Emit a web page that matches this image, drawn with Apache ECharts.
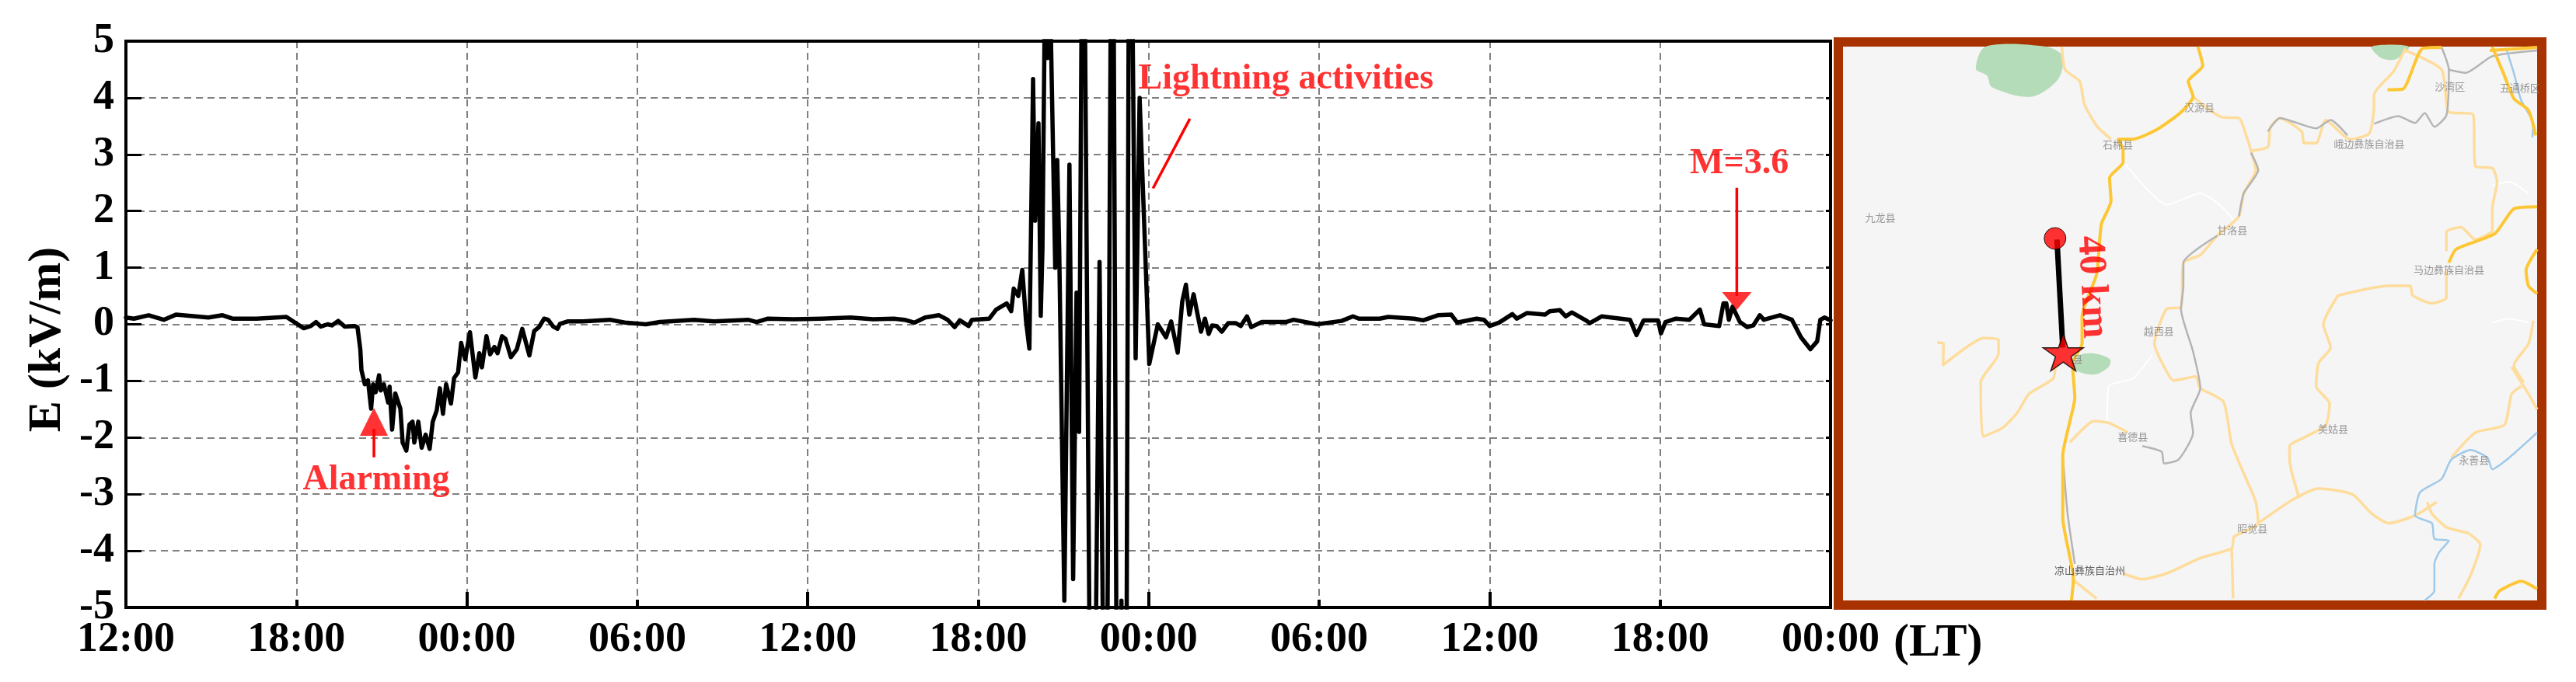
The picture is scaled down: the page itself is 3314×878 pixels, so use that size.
<!DOCTYPE html>
<html>
<head>
<meta charset="utf-8">
<title>E field</title>
<script src="https://cdn.jsdelivr.net/npm/echarts@6/dist/echarts.min.js"></script>
<style>
  html, body { margin: 0; padding: 0; background: #fff; }
  #chart { width: 3314px; height: 878px; }
</style>
</head>
<body>
<div id="chart"></div>
<script>
// time is hours after the first 12:00, field in kV/m
var xTickLabels = ['12:00', '18:00', '00:00', '06:00', '12:00', '18:00', '00:00', '06:00', '12:00', '18:00', '00:00'];

var calmBefore = [[0,.12],[.28,.1],[.8,.16],[1.33,.08],[1.76,.17],[2.9,.12],[3.4,.16],[3.75,.1],[4.6,.1],[5.65,.13],[5.95,.03],[6.26,-.07],[6.51,-.03],[6.69,.04],[6.86,-.04],[7.1,.0],[7.25,-.02],[7.47,.06],[7.7,-.04],[8.06,-.03]];
var alarmDip = [[8.15,-.05],[8.25,-.44],[8.29,-.81],[8.41,-1.06],[8.52,-.99],[8.63,-1.49],[8.7,-1.06],[8.79,-1.2],[8.91,-.9],[8.97,-1.17],[9.08,-1.06],[9.23,-1.38],[9.28,-1.1],[9.37,-1.86],[9.48,-1.22],[9.66,-1.49],[9.74,-2.09],[9.87,-2.23],[9.98,-1.77],[10.09,-1.72],[10.15,-2.09],[10.29,-1.72],[10.41,-2.18],[10.55,-1.95],[10.69,-2.2],[10.8,-1.72],[10.94,-1.52],[11.05,-1.13],[11.16,-1.58],[11.27,-1.06],[11.44,-1.4],[11.55,-.95],[11.69,-.85],[11.8,-.33],[11.94,-.62],[12.11,-.14],[12.3,-.94],[12.44,-.51],[12.53,-.76],[12.69,-.21],[12.82,-.53],[12.97,-.4],[13.08,-.51],[13.24,-.21],[13.36,-.26],[13.55,-.58],[13.76,-.44],[13.95,-.08],[14.2,-.55],[14.37,-.12],[14.54,-.05],[14.72,.1],[14.86,.08],[15.04,-.04],[15.19,-.08],[15.28,.01]];
var calmMiddle = [[15.54,.05],[16.09,.05],[17.03,.08],[17.56,.03],[18.3,0],[18.8,.04],[20,.08],[20.7,.05],[21.9,.08],[22.2,.04],[22.6,.1],[23.5,.09],[24.5,.1],[25.5,.12],[26.3,.09],[27.03,.1],[27.4,.08],[27.76,.03],[28.13,.12],[28.62,.16],[28.92,.08],[29.17,-.05],[29.35,.07],[29.66,-.03],[29.78,.08],[30.39,.1]];
var lightning = [[30.63,.26],[31,.37],[31.16,.23],[31.25,.63],[31.41,.5],[31.55,.96],[31.68,.07],[31.8,-.43],[31.93,4.33],[32,1.83],[32.12,3.55],[32.2,.15],[32.26,1.33],[32.34,5.5],[32.44,4.7],[32.55,5.3],[32.71,1],[32.78,2.9],[32.85,1.33],[33.03,-4.88],[33.21,2.82],[33.34,-4.5],[33.46,.56],[33.55,-1.9],[33.69,10],[34.01,-12],[34.27,1.1],[34.49,-11],[34.72,11],[34.92,-12],[35.04,-4.88],[35.18,-12],[35.33,11],[35.54,-.6],[35.68,4],[36.02,-.7]];
var afterLightning = [[36.32,0],[36.61,-.23],[36.79,.05],[37.02,-.5],[37.18,.4],[37.31,.7],[37.43,.17],[37.58,.53],[37.84,-.13],[37.98,.1],[38.11,-.17],[38.23,-.02],[38.39,-.03],[38.57,-.13],[38.8,.02],[39.07,.02],[39.24,-.03],[39.46,.14],[39.61,-.05],[39.98,.04],[40.83,.04],[41.1,.08],[41.93,0],[42.79,.06],[43.19,.14],[43.4,.1],[44.13,.1],[44.43,.13]];
var calmEnd = [[45.34,.1],[45.66,.07],[46.18,.16],[46.65,.17],[46.86,.03],[47.54,.1],[47.8,.08],[48,-.03],[48.33,.03],[48.8,.18],[48.96,.1],[49.32,.2],[49.95,.17],[50.11,.23],[50.47,.25],[50.68,.14],[50.89,.21],[51.42,.06],[51.52,.02],[51.94,.14],[52.94,.08],[53.17,-.19],[53.42,.07],[53.93,.07],[54.03,-.16],[54.19,.04],[54.56,.1],[55.03,.08],[55.4,.26],[55.55,0],[56.08,-.03],[56.23,.37],[56.33,.37],[56.42,.08],[56.55,.31],[56.81,.04],[57.07,-.05],[57.28,-.02],[57.51,.16],[57.65,.08],[58.22,.16],[58.64,.08],[58.96,-.23],[59.29,-.44],[59.53,-.3],[59.64,.08],[59.79,.12],[60,.07]];
var fieldSeries = [].concat(calmBefore, alarmDip, calmMiddle, lightning, afterLightning, calmEnd);

// annotations, in chart units
var alarmStem = [[8.73,-2.35],[8.73,-1.85]];
var alarmHead = [[8.73,-1.72]];
var quakeStem = [[56.7,2.41],[56.7,.5]];
var quakeHead = [[56.7,.41]];
var lightningLeader = [[37.45,3.63],[36.15,2.4]];
var noteTexts = [[8.81,-2.75,'Alarming'],[40.83,4.32,'Lightning activities'],[56.79,2.83,'M=3.6']];

// map layers
var greenAreas = [
  [[345,60],[325,118],[348,135],[358,165],[440,190],[495,145],[505,85],[470,60]],
  [[1145,60],[1165,90],[1195,93],[1222,60]],
  [[540,860],[530,895],[570,910],[600,890],[603,870],[570,855]]
];
var paleRoads = [
  [[503,60],[510,120],[540,150],[550,210],[575,265],[605,300]],
  [[245,827],[258,830],[257,885],[310,835],[340,815],[372,820],[372,855],[335,930],[340,1070],[380,1048],[410,1010],[435,960],[485,920],[490,880]],
  [[775,190],[835,243],[870,245],[885,290],[895,330],[905,380],[880,440],[870,500],[825,550],[790,600],[755,620],[750,735],[720,740],[695,830],[715,890],[735,925],[780,915],[790,945],[838,980],[855,1090],[885,1180],[905,1240],[910,1295],[860,1330],[855,1360],[790,1385],[720,1425],[670,1440],[630,1425]],
  [[855,1360],[858,1490]],
  [[910,1295],[980,1235],[1035,1205],[1105,1220],[1145,1270],[1180,1295],[1235,1275],[1280,1240]],
  [[895,330],[930,320],[935,270],[955,245],[1000,280],[1005,310],[1030,310],[1050,250],[1100,300],[1140,285],[1150,210],[1150,185],[1190,125],[1215,65]],
  [[1215,70],[1290,120],[1305,230],[1355,235],[1360,370],[1395,375],[1405,410],[1395,480],[1395,540]],
  [[1300,590],[1300,540],[1330,528],[1360,560],[1395,540]],
  [[1075,705],[1180,680],[1225,680],[1230,705],[1270,725],[1300,710],[1300,640]],
  [[1075,705],[1045,780],[1060,840],[1035,880],[1030,940],[1058,985],[1050,1040],[1010,1070],[975,1095],[975,1130],[995,1230]],
  [[1310,1125],[1360,1060],[1420,1040],[1435,960],[1455,940]],
  [[520,1085],[570,1030],[600,1035],[640,1060]],
  [[1480,770],[1470,830],[1440,885],[1460,930]],
  [[1260,1240],[1270,1270],[1300,1305],[1345,1320]],
  [[1435,890],[1470,960],[1488,1000]],
  [[1345,1320],[1370,1350],[1350,1430],[1325,1490]],
  [[525,1440],[575,1490]]
];
var mainRoads = [
  [[523,1495],[527,1440],[505,1280],[505,1120],[520,1030],[530,970],[525,880],[545,830],[545,760],[575,650],[585,520],[605,460],[602,400],[630,360],[630,330],[620,300],[650,300],[700,275],[750,230],[775,190],[765,150],[795,110],[785,60]],
  [[1178,172],[1210,170],[1250,65],[1290,62]],
  [[1395,60],[1420,135],[1440,195],[1470,225],[1485,290]],
  [[1305,620],[1320,585],[1400,545],[1440,480],[1488,475]],
  [[1488,585],[1465,640],[1470,680],[1488,700]],
  [[1400,1490],[1410,1470],[1455,1445],[1488,1465]],
  [[1390,70],[1488,62]]
];
var railLines = [
  [[930,280],[955,245],[1030,272],[1060,250],[1095,290]],
  [[1150,260],[1200,240],[1235,258],[1255,232],[1275,268],[1300,238],[1305,120],[1290,62]],
  [[1305,120],[1340,128],[1395,85],[1488,70]],
  [[895,335],[910,380],[880,440],[870,500]],
  [[825,550],[755,620],[755,680],[750,740],[775,850],[790,945],[770,1010],[775,1060],[745,1130],[715,1140],[710,1110],[670,1095]],
  [[505,1120],[515,1270],[530,1400]]
];
var whiteLines = [
  [[635,365],[680,430],[720,470],[790,440],[830,470],[860,510]],
  [[690,860],[650,920],[600,940],[597,1030]],
  [[1395,775],[1430,765],[1470,775]],
  [[1395,420],[1430,410],[1470,440]]
];
var rivers = [
  [[1488,1060],[1430,1125],[1395,1155],[1385,1125],[1350,1105],[1310,1130],[1290,1180],[1245,1215],[1235,1275],[1270,1295],[1275,1335],[1305,1340],[1285,1370],[1275,1400],[1275,1470],[1255,1495]],
  [[1425,70],[1440,130],[1455,200],[1480,260],[1478,295]]
];
var placeNames = [
  [1307,162,'沙湾区'],[1452,167,'五通桥区'],[788,217,'汉源县'],[1140,311,'峨边彝族自治县'],[619,313,'石棉县'],
  [127,502,'九龙县'],[856,536,'甘洛县'],[1305,637,'马边彝族自治县'],[704,796,'越西县'],[650,1070,'喜德县'],
  [1065,1051,'美姑县'],[1357,1131,'永善县'],[898,1308,'昭觉县'],[536,870,'县']
];
var prefectureName = [[561,1416,'凉山彝族自治州']];
var stationPoint = [[489,557]];
var epicentrePoint = [[506,852]];
var distanceLine = [[493,560],[505,840]];
var distanceText = [[565,683,'40 km']];

var serifFont = '"Liberation Serif", "Times New Roman", serif';
var starPath = 'path://M50 0 L61.8 36.3 L100 36.3 L69.1 58.8 L80.9 95.1 L50 72.6 L19.1 95.1 L30.9 58.8 L0 36.3 L38.2 36.3 Z';

function mapLine(points, color, width) {
  return {
    type: 'line', xAxisIndex: 2, yAxisIndex: 2, data: points, showSymbol: false, silent: true, smooth: 0.2,
    lineStyle: { color: color, width: width, join: 'round' }
  };
}

var series = [];

series.push({
  type: 'line', data: fieldSeries, showSymbol: false, silent: true, z: 3,
  lineStyle: { color: '#000', width: 5.5, join: 'round', cap: 'round' }
});
[alarmStem, quakeStem, lightningLeader].forEach(function (stem) {
  series.push({
    type: 'line', data: stem, showSymbol: false, silent: true, z: 4,
    lineStyle: { color: '#ff0000', width: 3.5 }
  });
});
series.push({
  type: 'scatter', data: alarmHead, symbol: 'triangle', symbolSize: [36, 36], silent: true, z: 5,
  itemStyle: { color: '#ff0000' }
});
series.push({
  type: 'scatter', data: quakeHead, symbol: 'triangle', symbolRotate: 180, symbolSize: [38, 23], silent: true, z: 5,
  itemStyle: { color: '#ff0000' }
});
series.push({
  type: 'scatter', data: noteTexts, symbolSize: 1, silent: true, z: 6,
  itemStyle: { color: 'transparent' },
  label: {
    show: true, position: 'inside', color: '#ff0000', fontFamily: serifFont, fontWeight: 'bold', fontSize: 46,
    formatter: function (p) { return p.value[2]; }
  }
});

// map
series.push({
  type: 'custom', xAxisIndex: 2, yAxisIndex: 2, data: greenAreas.map(function (a, i) { return [a[0][0], a[0][1], i]; }),
  silent: true, z: 1,
  renderItem: function (params, api) {
    var pts = greenAreas[params.dataIndex].map(function (p) { return api.coord(p); });
    return { type: 'polygon', shape: { points: pts, smooth: 0.3 }, style: { fill: '#b5dcb8' } };
  }
});
whiteLines.forEach(function (l) { series.push(mapLine(l, '#ffffff', 2)); });
paleRoads.forEach(function (l) { series.push(mapLine(l, '#fedc9c', 3.5)); });
railLines.forEach(function (l) { series.push(mapLine(l, '#b4b4b4', 2.5)); });
rivers.forEach(function (l) { series.push(mapLine(l, '#9ec9ea', 2.5)); });
mainRoads.forEach(function (l) { series.push(mapLine(l, '#fdc733', 4)); });

series.push({
  type: 'scatter', xAxisIndex: 2, yAxisIndex: 2, data: placeNames, symbolSize: 1, silent: true, z: 6,
  itemStyle: { color: 'transparent' },
  label: {
    show: true, position: 'inside', color: '#808080', fontFamily: '"Noto Sans CJK SC"', fontSize: 13,
    formatter: function (p) { return p.value[2]; }
  }
});
series.push({
  type: 'scatter', xAxisIndex: 2, yAxisIndex: 2, data: prefectureName, symbolSize: 1, silent: true, z: 6,
  itemStyle: { color: 'transparent' },
  label: {
    show: true, position: 'inside', color: '#333', fontFamily: '"Noto Sans CJK SC"', fontSize: 13,
    formatter: function (p) { return p.value[2]; }
  }
});
series.push({
  type: 'line', xAxisIndex: 2, yAxisIndex: 2, data: distanceLine, showSymbol: false, silent: true, z: 7,
  lineStyle: { color: '#000', width: 7 }
});
series.push({
  type: 'scatter', xAxisIndex: 2, yAxisIndex: 2, data: stationPoint, symbol: 'circle', symbolSize: 28, silent: true, z: 8,
  itemStyle: { color: '#ff0000', borderColor: '#000', borderWidth: 1 }
});
series.push({
  type: 'scatter', xAxisIndex: 2, yAxisIndex: 2, data: epicentrePoint, symbol: starPath, symbolSize: [52, 48], silent: true, z: 8,
  itemStyle: { color: '#ff0000', borderColor: '#000', borderWidth: 1.5 }
});
series.push({
  type: 'scatter', xAxisIndex: 2, yAxisIndex: 2, data: distanceText, symbolSize: 1, silent: true, z: 8,
  itemStyle: { color: 'transparent' },
  label: {
    show: true, position: 'inside', rotate: -87, color: '#ff0000', fontFamily: serifFont, fontWeight: 'bold', fontSize: 50,
    formatter: function (p) { return p.value[2]; }
  }
});

var gridDash = { color: '#808080', width: 2, type: [9, 6] };
var labelStyle = { color: '#000', fontFamily: serifFont, fontWeight: 'bold', fontSize: 54 };

var option = {
  animation: false,
  backgroundColor: '#fff',
  grid: [
    { left: 162, top: 53, width: 2193, height: 729, show: true, borderColor: '#000', borderWidth: 4, backgroundColor: 'transparent', z: 2 },
    { left: 2365, top: 54, width: 905, height: 725, show: true, borderColor: '#a83200', borderWidth: 12, backgroundColor: '#f5f5f5' }
  ],
  xAxis: [
    {
      type: 'value', gridIndex: 0, min: 0, max: 60, interval: 6, position: 'bottom',
      axisLine: { show: true, onZero: false, lineStyle: { color: '#000', width: 4 } },
      axisTick: { show: true, inside: true, length: 10, lineStyle: { color: '#000', width: 4 } },
      splitLine: { show: true, lineStyle: gridDash },
      axisLabel: Object.assign({ margin: 15, formatter: function (v) { return xTickLabels[v / 6]; } }, labelStyle)
    },
    {
      type: 'value', gridIndex: 0, min: 0, max: 60, interval: 12, position: 'bottom',
      axisLine: { show: false, onZero: false },
      axisTick: { show: true, inside: true, length: 20, lineStyle: { color: '#000', width: 4 } },
      splitLine: { show: false },
      axisLabel: { show: false }
    },
    {
      type: 'value', gridIndex: 1, min: 40, max: 1497.6, show: false
    }
  ],
  yAxis: [
    {
      type: 'value', gridIndex: 0, min: -5, max: 5, interval: 1, position: 'left',
      axisLine: { show: true, onZero: false, lineStyle: { color: '#000', width: 4 } },
      axisTick: { show: true, inside: true, length: 20, lineStyle: { color: '#000', width: 3 } },
      splitLine: { show: true, lineStyle: gridDash },
      axisLabel: Object.assign({ margin: 15 }, labelStyle)
    },
    {
      type: 'value', gridIndex: 0, min: -5, max: 5, interval: 1, position: 'right',
      axisLine: { show: true, onZero: false, lineStyle: { color: '#000', width: 4 } },
      axisTick: { show: true, inside: true, length: 6, lineStyle: { color: '#000', width: 3 } },
      splitLine: { show: false },
      axisLabel: { show: false }
    },
    {
      type: 'value', gridIndex: 1, min: 48, max: 1507, inverse: true, show: false
    }
  ],
  graphic: [
    {
      type: 'text', x: 61, y: 437, rotation: Math.PI / 2, silent: true,
      style: { text: 'E (kV/m)', align: 'center', verticalAlign: 'middle', fill: '#000', font: 'bold 60px ' + serifFont }
    },
    {
      type: 'text', x: 2436, y: 828, silent: true,
      style: { text: '(LT)', align: 'left', verticalAlign: 'middle', fill: '#000', font: 'bold 60px ' + serifFont }
    }
  ],
  series: series
};

var chart = echarts.init(document.getElementById('chart'));
chart.setOption(option);
</script>
</body>
</html>
